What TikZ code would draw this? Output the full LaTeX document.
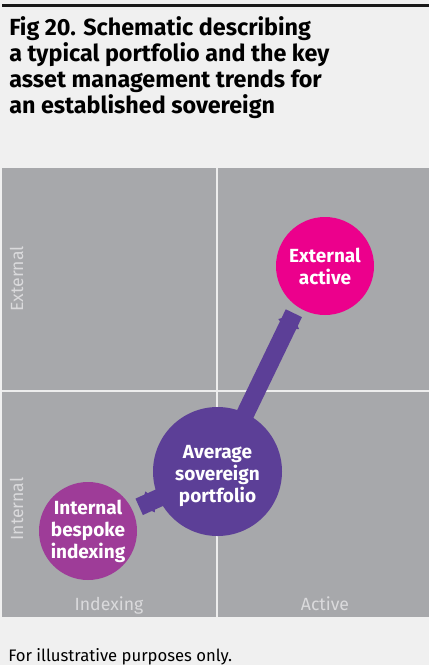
\documentclass[tikz,border=0pt]{standalone}
\usepackage{fontspec}
\setmainfont{Fira Sans}
\usetikzlibrary{arrows.meta}

\definecolor{pagebg}{HTML}{F0F0F0}
\definecolor{panelgrey}{HTML}{A7A8AB}
\definecolor{gridwhite}{HTML}{EDEDED}
\definecolor{axistext}{HTML}{DADADC}
\definecolor{avgpurple}{HTML}{5C3F97}
\definecolor{extmagenta}{HTML}{EC008C}
\definecolor{intpurple}{HTML}{9E3C98}

\pgfdeclarelayer{bg}
\pgfdeclarelayer{mid}
\pgfsetlayers{bg,mid,main}

\begin{document}
\begin{tikzpicture}[x=0.75pt,y=-0.75pt,
    bubble/.style={circle, inner sep=0pt, align=center, text=white,
        font=\bfseries\fontsize{14.25}{16.5}\selectfont},
    trend/.style={draw=avgpurple, line width=13.5pt,
        -{Kite[length=12pt,width=17.25pt,inset=4.5pt,line width=0pt]}},
    axislabel/.style={text=axistext, inner sep=0pt, anchor=base,
        font=\fontsize{13.25}{15}\selectfont},
    gridline/.style={draw=gridwhite, line width=1.5pt}]

    \useasboundingbox (0,0) rectangle (429,665);

    % page, rule and quadrants
    \begin{pgfonlayer}{bg}
        \fill[pagebg] (0,0) rectangle (429,665);
        \fill[black!90] (2,4) rectangle (429,7);
        \fill[panelgrey] (2,168) rectangle (429,617);
        \draw[gridline] (216.7,168) -- (216.7,617);
        \draw[gridline] (2,391) -- (429,391);
    \end{pgfonlayer}

    \node[anchor=north west, inner sep=0pt, align=left,
        font=\bfseries\fontsize{17.5}{19.5}\selectfont] (title) at (9,16)
        {Fig 20. Schematic describing\\a typical portfolio and the key\\asset management trends for\\an established sovereign};

    % axis labels
    \node[axislabel, rotate=90] (extlab) at (23,279) {External};
    \node[axislabel, rotate=90] (intlab) at (23,509) {Internal};
    \node[axislabel] (idxlab) at (109,610) {Indexing};
    \node[axislabel] (actlab) at (325,610) {Active};

    % the three portfolios
    \node[bubble, fill=extmagenta, minimum size=73.5pt] (extact) at (325,266) {External\\active};
    \node[bubble, fill=intpurple, minimum size=73.5pt] (intidx) at (88,531) {Internal\\bespoke\\indexing};
    \node[bubble, fill=avgpurple, minimum size=96.75pt, text height=46pt, text depth=0pt] (avg)
        at (217.5,471.5) {Average\\sovereign\\portfolio};

    \coordinate (exttip) at (293,315);
    \coordinate (inttip) at (141,506);
    \begin{pgfonlayer}{mid}
        \draw[trend] (avg.center) -- (exttip);
        \draw[trend] (avg.center) -- (inttip);
    \end{pgfonlayer}

    \node[anchor=base west, inner sep=0pt, font=\fontsize{12.5}{14}\selectfont] (note) at (8,661)
        {For illustrative purposes only.};
\end{tikzpicture}
\end{document}
